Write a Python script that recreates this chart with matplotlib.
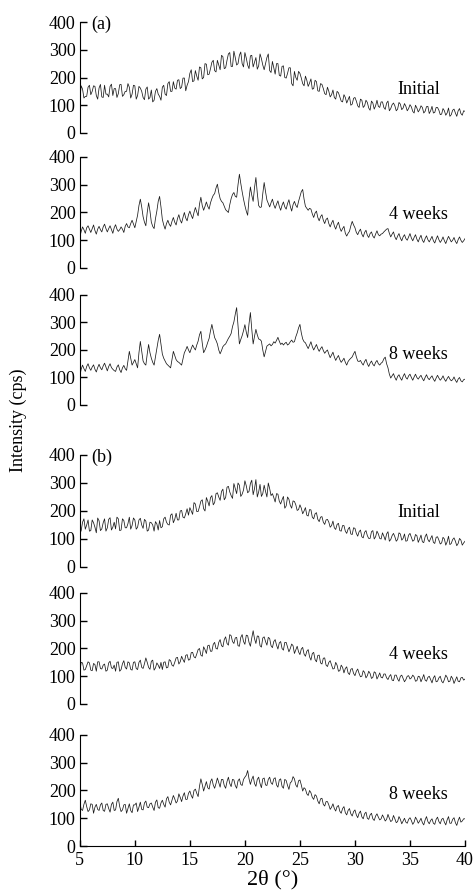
import numpy as np
import matplotlib
matplotlib.use('Agg')
import matplotlib.pyplot as plt

plt.rcParams['font.family'] = ['Liberation Serif', 'DejaVu Serif']

# 2theta sampling, 5..40 deg every 0.125 deg
# the "_m" lists are the readings at the in-between positions (5.125, 5.375, ...)
dos_theta = np.arange(5, 40.001, 0.125)

a_inicial = [120, 158, 132, 165, 138, 170, 135, 162, 130, 172,
             140, 168, 135, 160, 142, 175, 138, 150, 165, 140,
             170, 135, 162, 128, 158, 122, 155, 118, 160, 132,
             165, 140, 178, 150, 185, 158, 192, 165, 198, 172,
             215, 185, 225, 190, 235, 200, 248, 212, 255, 225,
             262, 228, 275, 235, 285, 240, 295, 245, 280, 250,
             290, 245, 278, 238, 272, 242, 268, 228, 272, 225,
             258, 212, 250, 205, 242, 198, 235, 178, 222, 190,
             215, 178, 205, 168, 195, 160, 185, 150, 175, 142,
             165, 130, 155, 122, 145, 115, 138, 108, 132, 104,
             128, 98, 122, 92, 118, 90, 115, 86, 118, 92,
             112, 85, 115, 88, 108, 80, 110, 84, 106, 80,
             102, 78, 100, 76, 98, 72, 95, 70, 96, 74,
             92, 66, 88, 64, 90, 66, 86, 60, 88, 64,
             78]
a_inicial_m = [170, 126, 132, 172, 150, 168, 122, 175, 128, 140,
               130, 176, 160, 128, 174, 132, 150, 178, 126, 172,
               122, 168, 150, 120, 166, 128, 112, 150, 140, 118,
               172, 135, 185, 150, 162, 190, 160, 198, 152, 185,
               228, 188, 205, 238, 195, 250, 210, 232, 262, 220,
               245, 280, 232, 262, 290, 240, 272, 250, 292, 238,
               270, 232, 280, 255, 230, 285, 245, 250, 285, 218,
               235, 250, 208, 240, 200, 215, 235, 170, 200, 222,
               198, 170, 190, 180, 158, 190, 152, 178, 160, 138,
               150, 138, 128, 150, 130, 112, 128, 120, 100, 125,
               115, 92, 118, 98, 110, 82, 108, 98, 96, 112,
               92, 108, 80, 102, 98, 86, 104, 90, 96, 88,
               94, 72, 90, 84, 92, 78, 96, 80, 72, 92,
               82, 68, 80, 72, 60, 82, 72, 80, 70, 80]

a_4sem = [110, 148, 125, 152, 128, 155, 122, 150, 130, 158,
          130, 152, 125, 156, 132, 148, 128, 160, 145, 172,
          145, 190, 248, 185, 152, 235, 165, 142, 205, 258,
          175, 140, 172, 150, 182, 155, 192, 162, 200, 170,
          205, 178, 218, 188, 255, 208, 238, 212, 250, 268,
          302, 250, 235, 210, 200, 250, 272, 255, 338, 275,
          225, 190, 292, 240, 326, 225, 220, 308, 245, 220,
          248, 215, 242, 208, 238, 212, 246, 205, 240, 218,
          258, 283, 222, 208, 212, 182, 205, 170, 192, 160,
          180, 148, 172, 140, 165, 132, 150, 115, 132, 168,
          145, 120, 140, 112, 136, 110, 130, 108, 134, 116,
          124, 135, 142, 112, 130, 102, 124, 98, 120, 100,
          124, 98, 120, 94, 118, 92, 116, 94, 114, 90,
          116, 92, 112, 88, 114, 94, 110, 88, 112, 92,
          106]
a_4sem_m = [132, 138, 145, 140, 142, 135, 140, 138, 148, 142,
            142, 138, 145, 140, 138, 140, 150, 148, 160, 158,
            168, 225, 220, 165, 200, 205, 150, 178, 240, 220,
            155, 160, 158, 168, 165, 178, 172, 182, 180, 192,
            190, 200, 202, 230, 225, 222, 222, 235, 262, 288,
            272, 240, 222, 205, 228, 265, 258, 300, 305, 248,
            205, 250, 262, 290, 270, 218, 268, 275, 232, 235,
            228, 230, 222, 226, 220, 232, 222, 228, 226, 240,
            275, 248, 215, 215, 195, 198, 182, 185, 172, 175,
            160, 162, 152, 155, 145, 142, 125, 125, 152, 155,
            128, 132, 122, 128, 118, 124, 115, 122, 120, 122,
            130, 140, 125, 122, 112, 115, 108, 112, 106, 112,
            108, 110, 104, 108, 100, 106, 102, 104, 98, 104,
            102, 100, 98, 102, 104, 100, 96, 102, 100, 98]

a_8sem = [105, 145, 122, 150, 126, 146, 120, 148, 128, 152,
          124, 150, 130, 122, 146, 118, 144, 126, 195, 145,
          165, 135, 231, 160, 145, 220, 170, 145, 205, 257,
          185, 160, 145, 135, 195, 165, 155, 145, 190, 213,
          190, 218, 200, 232, 268, 190, 212, 242, 293, 245,
          222, 186, 212, 222, 242, 260, 302, 354, 222, 252,
          292, 245, 336, 222, 275, 240, 232, 175, 214, 222,
          220, 225, 246, 220, 218, 228, 222, 236, 230, 262,
          293, 240, 226, 205, 230, 200, 220, 195, 212, 188,
          200, 172, 192, 162, 180, 155, 170, 145, 165, 175,
          195, 160, 162, 145, 166, 140, 160, 142, 162, 145,
          156, 174, 135, 98, 114, 90, 110, 90, 114, 94,
          112, 90, 112, 94, 108, 88, 110, 92, 106, 86,
          108, 90, 106, 86, 104, 88, 102, 82, 100, 84,
          94]
a_8sem_m = [130, 132, 140, 135, 138, 130, 136, 135, 142, 138,
            140, 136, 125, 138, 128, 135, 132, 160, 170, 155,
            150, 190, 195, 150, 185, 190, 155, 175, 235, 222,
            170, 150, 140, 165, 180, 158, 150, 168, 200, 200,
            205, 208, 218, 255, 225, 200, 228, 270, 268, 235,
            200, 198, 218, 232, 250, 285, 330, 290, 238, 270,
            265, 295, 275, 250, 255, 238, 200, 195, 218, 215,
            230, 235, 232, 225, 224, 218, 230, 228, 248, 280,
            262, 230, 215, 218, 212, 210, 205, 205, 198, 195,
            185, 182, 175, 172, 165, 162, 155, 158, 170, 186,
            175, 158, 152, 158, 150, 152, 148, 155, 150, 152,
            168, 150, 112, 106, 100, 104, 98, 104, 100, 106,
            100, 102, 100, 102, 96, 100, 98, 100, 94, 98,
            98, 96, 94, 96, 94, 92, 90, 94, 88, 92]

b_inicial = [118, 160, 135, 168, 130, 158, 122, 165, 136, 172,
             140, 176, 142, 136, 172, 132, 166, 140, 178, 148,
             168, 142, 174, 138, 164, 132, 158, 128, 154, 166,
             144, 178, 152, 185, 158, 192, 168, 202, 175, 208,
             212, 188, 225, 198, 235, 208, 248, 218, 255, 230,
             265, 238, 278, 248, 288, 255, 298, 262, 292, 260,
             308, 265, 298, 258, 312, 268, 252, 292, 250, 280,
             262, 232, 260, 225, 252, 218, 242, 210, 234, 202,
             222, 190, 212, 182, 204, 172, 194, 162, 180, 152,
             170, 142, 164, 134, 156, 128, 148, 120, 142, 116,
             138, 110, 132, 104, 130, 102, 126, 100, 128, 102,
             122, 96, 126, 98, 120, 92, 122, 96, 118, 94,
             120, 92, 116, 88, 114, 87, 118, 90, 112, 84,
             108, 82, 106, 78, 110, 84, 104, 76, 102, 78,
             92]
b_inicial_m = [130, 172, 150, 128, 168, 142, 175, 130, 158, 128,
               170, 132, 160, 178, 130, 172, 140, 155, 135, 175,
               135, 168, 150, 170, 128, 160, 150, 162, 132, 140,
               172, 160, 150, 190, 170, 168, 200, 178, 190, 185,
               200, 230, 198, 215, 240, 200, 235, 248, 222, 262,
               250, 270, 240, 285, 268, 245, 280, 300, 252, 275,
               290, 270, 310, 280, 250, 295, 262, 270, 300, 255,
               248, 262, 235, 240, 210, 250, 220, 236, 222, 205,
               210, 200, 185, 205, 178, 190, 170, 178, 160, 168,
               160, 148, 140, 152, 130, 148, 128, 135, 118, 140,
               120, 126, 108, 124, 112, 102, 130, 108, 118, 100,
               110, 118, 92, 112, 108, 98, 118, 102, 92, 114,
               106, 96, 112, 100, 90, 108, 98, 102, 88, 106,
               96, 86, 100, 90, 80, 98, 92, 84, 96, 86]

b_4sem = [118, 148, 124, 152, 122, 146, 118, 152, 126, 144,
          122, 154, 128, 118, 152, 124, 156, 126, 148, 122,
          152, 124, 158, 128, 166, 132, 154, 122, 148, 128,
          124, 152, 132, 156, 136, 166, 144, 172, 150, 178,
          160, 186, 166, 196, 176, 206, 182, 212, 190, 222,
          198, 232, 206, 242, 212, 246, 218, 240, 208, 250,
          215, 246, 208, 264, 218, 244, 205, 242, 212, 236,
          203, 232, 198, 225, 194, 222, 188, 216, 182, 208,
          178, 204, 172, 196, 158, 186, 152, 176, 144, 166,
          135, 156, 126, 150, 118, 140, 112, 134, 106, 128,
          102, 126, 98, 120, 94, 118, 92, 116, 90, 112,
          94, 108, 88, 106, 84, 104, 82, 104, 80, 100,
          90, 104, 82, 100, 80, 106, 82, 100, 76, 102,
          82, 100, 76, 104, 80, 100, 74, 98, 80, 96,
          90]
b_4sem_m = [150, 122, 138, 148, 120, 142, 152, 128, 140, 118,
            148, 130, 140, 150, 118, 145, 132, 152, 125, 150,
            128, 150, 132, 145, 150, 125, 158, 130, 140, 150,
            150, 130, 160, 140, 150, 168, 152, 160, 175, 158,
            185, 170, 180, 200, 172, 196, 210, 190, 215, 200,
            222, 210, 232, 218, 250, 225, 238, 210, 240, 225,
            248, 222, 238, 235, 245, 210, 238, 225, 240, 210,
            225, 212, 220, 200, 222, 205, 200, 210, 195, 188,
            198, 180, 190, 170, 182, 160, 175, 148, 165, 140,
            150, 140, 128, 140, 120, 132, 128, 112, 125, 110,
            118, 110, 100, 114, 102, 110, 96, 112, 100, 96,
            108, 94, 100, 86, 104, 90, 100, 92, 88, 102,
            94, 98, 84, 98, 92, 86, 96, 88, 94, 80,
            94, 82, 88, 96, 82, 92, 86, 82, 94, 86]

b_8sem = [158, 128, 165, 124, 152, 118, 150, 128, 155, 125,
          152, 122, 158, 130, 172, 124, 148, 118, 152, 120,
          148, 124, 158, 130, 162, 138, 155, 128, 166, 136,
          165, 140, 178, 148, 182, 155, 188, 160, 192, 168,
          198, 172, 205, 178, 242, 198, 232, 205, 242, 208,
          245, 212, 240, 208, 248, 214, 238, 208, 242, 218,
          248, 272, 222, 252, 215, 248, 210, 245, 218, 248,
          222, 246, 212, 242, 208, 236, 204, 232, 242, 212,
          238, 198, 205, 182, 192, 168, 180, 152, 172, 144,
          160, 132, 152, 126, 146, 118, 142, 112, 135, 108,
          130, 102, 126, 98, 122, 96, 118, 92, 116, 94,
          112, 90, 114, 88, 110, 84, 106, 80, 100, 82,
          102, 78, 104, 82, 100, 76, 106, 80, 98, 78,
          104, 80, 100, 76, 106, 82, 102, 74, 104, 90,
          98]
b_8sem_m = [132, 150, 142, 130, 150, 140, 132, 148, 128, 150,
            135, 150, 128, 160, 142, 130, 150, 135, 128, 148,
            155, 140, 132, 155, 140, 152, 140, 158, 138, 155,
            150, 170, 158, 165, 170, 162, 175, 180, 168, 190,
            182, 200, 190, 215, 222, 215, 210, 232, 220, 225,
            228, 240, 218, 232, 225, 240, 218, 235, 222, 240,
            255, 242, 240, 225, 240, 225, 242, 220, 240, 228,
            242, 220, 238, 215, 240, 218, 228, 250, 220, 235,
            220, 210, 188, 200, 175, 185, 162, 170, 150, 160,
            148, 140, 135, 142, 125, 135, 120, 128, 116, 124,
            112, 118, 105, 116, 100, 112, 98, 108, 104, 98,
            102, 96, 100, 92, 98, 88, 96, 90, 86, 96,
            92, 86, 95, 90, 84, 94, 88, 92, 82, 96,
            88, 96, 86, 94, 82, 96, 84, 92, 86, 98]

series = [(a_inicial, a_inicial_m), (a_4sem, a_4sem_m), (a_8sem, a_8sem_m),
          (b_inicial, b_inicial_m), (b_4sem, b_4sem_m), (b_8sem, b_8sem_m)]
etiquetas = ['Initial', '4 weeks', '8 weeks', 'Initial', '4 weeks', '8 weeks']
etiqueta_y = [155, 191, 182, 193, 177, 184]
paneles = {0: '(a)', 3: '(b)'}

# panel boxes (bottom, top) in figure fraction
cajas = [(0.8516, 0.9754), (0.7009, 0.8248), (0.5480, 0.6708),
         (0.3672, 0.4922), (0.2143, 0.3382), (0.0558, 0.1797)]

fig = plt.figure(figsize=(4.75, 8.96), dpi=100)
izq, der = 0.168, 0.979

for i, ((prin, medio), (b, t)) in enumerate(zip(series, cajas)):
    y = np.empty(len(dos_theta))
    y[0::2] = prin
    y[1::2] = medio
    ax = fig.add_axes([izq, b, der - izq, t - b])
    ax.plot(dos_theta, y, color='#1a1a1a', lw=0.55)
    ax.set_xlim(5, 40)
    ax.set_ylim(0, 400)
    ax.set_yticks([0, 100, 200, 300, 400])
    ax.spines['top'].set_visible(False)
    ax.spines['right'].set_visible(False)
    ax.tick_params(axis='y', direction='in', length=5, width=1, labelsize=13, pad=3)
    ax.tick_params(axis='x', direction='in', length=4, width=1, labelsize=13, pad=4)
    if i < 5:
        ax.spines['bottom'].set_visible(False)
        ax.set_xticks([])
    else:
        ax.set_xticks([5, 10, 15, 20, 25, 30, 35, 40])
        ax.set_xlabel('2θ (°)', fontsize=16, labelpad=1)
    ax.text(35.8, etiqueta_y[i], etiquetas[i], fontsize=13, ha='center', va='center')
    if i in paneles:
        ax.text(6.0, 392, paneles[i], fontsize=13, ha='left', va='center')
    ax.patch.set_visible(False)

fig.text(18 / 475, 1 - 420 / 896, 'Intensity (cps)', rotation=90,
         ha='center', va='center', fontsize=13)

plt.savefig('out.png', dpi=100)
